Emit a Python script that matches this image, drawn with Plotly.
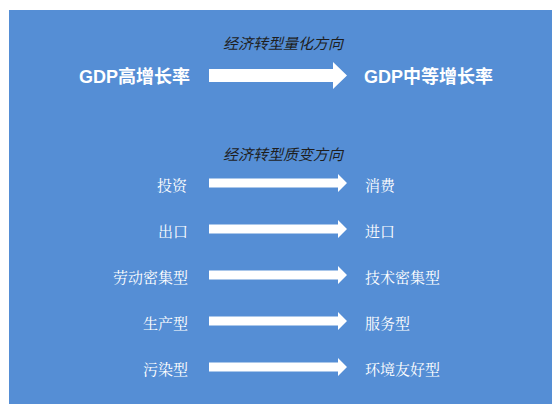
import plotly.graph_objects as go

# ---- data ----
quant_title = "经济转型量化方向"
quant_from = ["GDP高增长率"]
quant_to = ["GDP中等增长率"]

qual_title = "经济转型质变方向"
qual_from = ["投资", "出口", "劳动密集型", "生产型", "污染型"]
qual_to = ["消费", "进口", "技术密集型", "服务型", "环境友好型"]

# ---- layout constants ----
W, H = 552, 404
BLUE = "#558ED5"
ARROW_X0, ARROW_X1 = 209, 347
ROW0, ROW_STEP = 183, 46
BIG_Y = 75.5

def arrow_path(x0, x1, head_len, yc, shaft_h, head_h):
    xs = x1 - head_len
    pts = [
        (x0, yc - shaft_h / 2), (xs, yc - shaft_h / 2), (xs, yc - head_h / 2),
        (x1, yc), (xs, yc + head_h / 2), (xs, yc + shaft_h / 2), (x0, yc + shaft_h / 2),
    ]
    return "M " + " L ".join(f"{x},{y}" for x, y in pts) + " Z"

fig = go.Figure()
shapes = [dict(type="rect", xref="x", yref="y", x0=9, x1=W, y0=10, y1=H,
               fillcolor=BLUE, line=dict(width=0), layer="below")]
annotations = []

sans_bold = "Liberation Sans, Arial, Noto Sans CJK SC"
serif = "Noto Serif CJK SC, Liberation Serif, Noto Sans CJK SC, serif"
cjk = "Noto Sans CJK SC"

annotations.append(dict(x=284, y=42, text=quant_title, showarrow=False,
                        xanchor="center", yanchor="middle",
                        font=dict(family=cjk, size=15, color="#1e1e1e", style="italic")))
for a, b in zip(quant_from, quant_to):
    shapes.append(dict(type="path", xref="x", yref="y",
                       path=arrow_path(ARROW_X0, ARROW_X1, 14, BIG_Y, 13, 27),
                       fillcolor="white", line=dict(width=0)))
    annotations.append(dict(x=192, y=BIG_Y + 1, text=f"<b>{a}</b>", showarrow=False,
                            xanchor="right", yanchor="middle",
                            font=dict(family=sans_bold, size=18, color="white")))
    annotations.append(dict(x=362, y=BIG_Y + 1, text=f"<b>{b}</b>", showarrow=False,
                            xanchor="left", yanchor="middle",
                            font=dict(family=sans_bold, size=18, color="white")))

annotations.append(dict(x=284, y=153, text=qual_title, showarrow=False,
                        xanchor="center", yanchor="middle",
                        font=dict(family=cjk, size=15, color="#1e1e1e", style="italic")))
for i, (a, b) in enumerate(zip(qual_from, qual_to)):
    yc = ROW0 + i * ROW_STEP
    shapes.append(dict(type="path", xref="x", yref="y",
                       path=arrow_path(ARROW_X0, ARROW_X1, 9, yc, 9, 18),
                       fillcolor="white", line=dict(width=0)))
    annotations.append(dict(x=190, y=yc + 1, text=a, showarrow=False,
                            xanchor="right", yanchor="middle",
                            font=dict(family=serif, size=15, color="white")))
    annotations.append(dict(x=363, y=yc + 1, text=b, showarrow=False,
                            xanchor="left", yanchor="middle",
                            font=dict(family=serif, size=15, color="white")))

fig.update_layout(
    width=W, height=H, margin=dict(l=0, r=0, t=0, b=0),
    paper_bgcolor="white", plot_bgcolor="white",
    xaxis=dict(range=[0, W], visible=False, fixedrange=True),
    yaxis=dict(range=[H, 0], visible=False, fixedrange=True),
    shapes=shapes, annotations=annotations, showlegend=False,
)

fig.write_html("out.html", config={"displayModeBar": False},
               post_script="document.body.style.margin='0';document.body.style.overflow='hidden';")
